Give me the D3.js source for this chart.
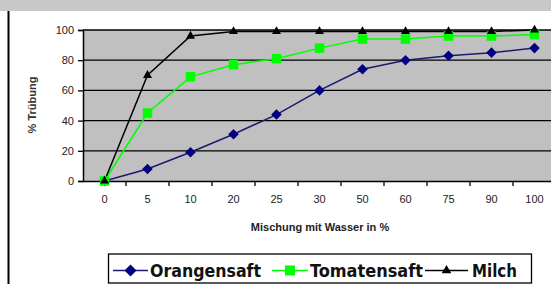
<!DOCTYPE html>
<html><head><meta charset="utf-8">
<script src="https://cdn.jsdelivr.net/npm/d3@7"></script>
<style>body{margin:0;background:#fff;overflow:hidden}svg{display:block}text{font-family:Arial,"Liberation Sans",sans-serif}</style>
</head><body>
<script>
const categories = ["0","5","10","20","25","30","50","60","75","90","100"];
const orangensaft = [0, 8, 19, 31, 44, 60, 74, 80, 83, 85, 88];
const tomatensaft = [0, 45, 69, 77, 81, 88, 94, 94, 96, 96, 97];
const milch = [0, 70, 96, 99, 99, 99, 99, 99, 99, 99, 100];
const yTicks = [0, 20, 40, 60, 80, 100];

(function(){
const W = 551, H = 284;
const svg = d3.select("body").append("svg").attr("width", W).attr("height", H);

svg.append("rect").attr("x",0).attr("y",0).attr("width",W).attr("height",11).attr("fill","#c8c8c8");
svg.append("line").attr("x1",8.5).attr("x2",8.5).attr("y1",11).attr("y2",H).attr("stroke","#000").attr("stroke-width",2);

const pl = 83, pr = 556, pt = 30, pb = 181;
const x = d3.scaleBand().domain(categories).range([pl, pr]);
const y = d3.scaleLinear().domain([0, 100]).range([pb, pt]);

svg.append("rect").attr("x",pl).attr("y",pt).attr("width",pr-pl).attr("height",pb-pt).attr("fill","#c0c0c0");

svg.append("g").selectAll("line").data(yTicks.filter(d=>d>0)).join("line")
  .attr("x1",pl).attr("x2",pr).attr("y1",d=>y(d)).attr("y2",d=>y(d))
  .attr("stroke","#000").attr("stroke-width",1.3);

const ya = svg.append("g").attr("transform",`translate(${pl},0)`)
  .call(d3.axisLeft(y).tickValues(yTicks).tickSize(5).tickPadding(4));
ya.select(".domain").attr("stroke","#000").attr("stroke-width",1.5);
ya.selectAll("line").attr("stroke-width",1.3);
ya.selectAll("text").attr("font-size",11).attr("fill","#222");

const xa = svg.append("g").attr("transform",`translate(0,${pb})`)
  .call(d3.axisBottom(x).tickSize(0).tickPadding(14));
xa.select(".domain").attr("stroke","#000").attr("stroke-width",1.5);
xa.selectAll("text").attr("font-size",11).attr("fill","#222");
svg.append("g").selectAll("line").data(categories.slice(1)).join("line")
  .attr("x1",d=>x(d)).attr("x2",d=>x(d)).attr("y1",pb).attr("y2",pb+5)
  .attr("stroke","#000").attr("stroke-width",1.3);

svg.append("text").attr("x",320).attr("y",231).attr("text-anchor","middle")
  .attr("font-size",11).attr("font-weight","bold").attr("fill","#222").text("Mischung mit Wasser in %");
svg.append("text").attr("transform","translate(36,105) rotate(-90)").attr("text-anchor","middle")
  .attr("font-size",11).attr("font-weight","bold").attr("fill","#333").text("% Trübung");

const cx = d => x(d) + x.bandwidth()/2;
const series = [
  {name:"Orangensaft", vals:orangensaft, color:"#000080", sym:d3.symbolSquare, rot:45, size:56, lsize:72, lc:"#1a1a70"},
  {name:"Tomatensaft", vals:tomatensaft, color:"#00ff00", sym:d3.symbolSquare, rot:0, size:90, lsize:100, lc:"#00ff00"},
  {name:"Milch", vals:milch, color:"#000000", sym:d3.symbolTriangle, rot:0, size:35, lsize:40, lc:"#000"}
];
const line = d3.line().x((d,i)=>cx(categories[i])).y(d=>y(d));
series.forEach(s=>{
  svg.append("path").datum(s.vals).attr("d",line).attr("fill","none").attr("stroke",s.lc).attr("stroke-width",1.5);
});
series.forEach(s=>{
  svg.append("g").selectAll("path").data(s.vals).join("path")
    .attr("transform",(d,i)=>`translate(${cx(categories[i])},${y(d)}) rotate(${s.rot})`)
    .attr("d",d3.symbol().type(s.sym).size(s.size)).attr("fill",s.color);
});

const lg = svg.append("g");
lg.append("rect").attr("x",108.5).attr("y",254).attr("width",423).attr("height",29).attr("fill","#fff").attr("stroke","#000").attr("stroke-width",1.3);
const items = [
  {s:series[0], x1:113, x2:148, tx:150, tw:111},
  {s:series[1], x1:272, x2:308, tx:310, tw:113},
  {s:series[2], x1:425, x2:468, tx:472, tw:45}
];
items.forEach(it=>{
  lg.append("line").attr("x1",it.x1).attr("x2",it.x2).attr("y1",270.5).attr("y2",270.5).attr("stroke",it.s.lc).attr("stroke-width",1.5);
  lg.append("path").attr("transform",`translate(${(it.x1+it.x2)/2},270.5) rotate(${it.s.rot})`).attr("d",d3.symbol().type(it.s.sym).size(it.s.lsize)).attr("fill",it.s.color);
  lg.append("text").attr("x",it.tx).attr("y",277).attr("font-size",17.5).attr("font-weight","bold")
    .style("font-family","'DejaVu Sans Condensed','DejaVu Sans',sans-serif")
    .attr("textLength",it.tw).attr("lengthAdjust","spacingAndGlyphs").attr("fill","#111").text(it.s.name);
});
})();
</script>
</body></html>
